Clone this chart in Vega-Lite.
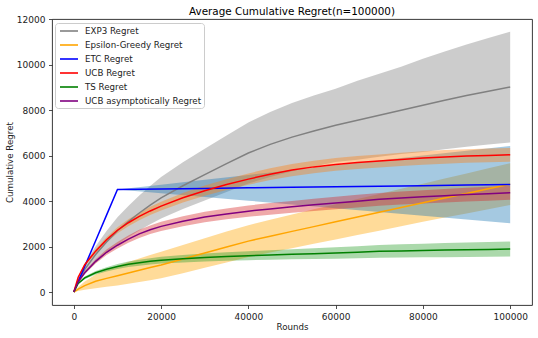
{
  "$schema": "https://vega.github.io/schema/vega-lite/v6.json",
  "width": 480,
  "height": 286,
  "autosize": {"type": "none"},
  "padding": {"left": 52, "top": 19, "right": 6, "bottom": 33},
  "background": "white",
  "title": {"text": "Average Cumulative Regret(n=100000)", "fontSize": 10.4, "font": "DejaVu Sans", "fontWeight": "normal", "color": "#000", "anchor": "middle", "frame": "group", "offset": -2},
  "config": {
    "view": {"stroke": "#222", "strokeWidth": 0.9},
    "axis": {"domain": false, "grid": false, "tickColor": "#222", "tickSize": 3.5, "tickWidth": 0.8, "labelFont": "DejaVu Sans", "labelFontSize": 9, "labelColor": "#222", "labelPadding": 3.5, "titleFont": "DejaVu Sans", "titleFontSize": 8.7, "titleFontWeight": "normal", "titleColor": "#222"}
  },
  "resolve": {"legend": {"fill": "independent", "stroke": "independent"}},
  "data": {"values": [
    {"s":"EXP3 Regret","t":0,"m":0,"lo":0,"hi":0},
    {"s":"EXP3 Regret","t":1000,"m":500,"lo":390,"hi":610},
    {"s":"EXP3 Regret","t":2500,"m":1000,"lo":780,"hi":1220},
    {"s":"EXP3 Regret","t":5000,"m":1650,"lo":1287,"hi":2013},
    {"s":"EXP3 Regret","t":7500,"m":2200,"lo":1716,"hi":2684},
    {"s":"EXP3 Regret","t":10000,"m":2700,"lo":2106,"hi":3294},
    {"s":"EXP3 Regret","t":12500,"m":3100,"lo":2418,"hi":3782},
    {"s":"EXP3 Regret","t":15000,"m":3480,"lo":2714,"hi":4246},
    {"s":"EXP3 Regret","t":17500,"m":3830,"lo":2987,"hi":4673},
    {"s":"EXP3 Regret","t":20000,"m":4150,"lo":3237,"hi":5063},
    {"s":"EXP3 Regret","t":25000,"m":4680,"lo":3650,"hi":5710},
    {"s":"EXP3 Regret","t":30000,"m":5170,"lo":4033,"hi":6307},
    {"s":"EXP3 Regret","t":35000,"m":5650,"lo":4407,"hi":6893},
    {"s":"EXP3 Regret","t":40000,"m":6120,"lo":4774,"hi":7466},
    {"s":"EXP3 Regret","t":45000,"m":6500,"lo":5070,"hi":7930},
    {"s":"EXP3 Regret","t":50000,"m":6820,"lo":5320,"hi":8320},
    {"s":"EXP3 Regret","t":55000,"m":7090,"lo":5530,"hi":8650},
    {"s":"EXP3 Regret","t":60000,"m":7340,"lo":5725,"hi":8955},
    {"s":"EXP3 Regret","t":65000,"m":7560,"lo":5821,"hi":9299},
    {"s":"EXP3 Regret","t":70000,"m":7780,"lo":5952,"hi":9608},
    {"s":"EXP3 Regret","t":75000,"m":8000,"lo":6080,"hi":9920},
    {"s":"EXP3 Regret","t":80000,"m":8220,"lo":6165,"hi":10275},
    {"s":"EXP3 Regret","t":85000,"m":8440,"lo":6288,"hi":10592},
    {"s":"EXP3 Regret","t":90000,"m":8650,"lo":6401,"hi":10899},
    {"s":"EXP3 Regret","t":95000,"m":8840,"lo":6497,"hi":11183},
    {"s":"EXP3 Regret","t":100000,"m":9025,"lo":6588,"hi":11462},

    {"s":"Epsilon-Greedy Regret","t":0,"m":0,"lo":0,"hi":0},
    {"s":"Epsilon-Greedy Regret","t":1000,"m":130,"lo":40,"hi":220},
    {"s":"Epsilon-Greedy Regret","t":2500,"m":280,"lo":100,"hi":460},
    {"s":"Epsilon-Greedy Regret","t":5000,"m":470,"lo":170,"hi":770},
    {"s":"Epsilon-Greedy Regret","t":7500,"m":600,"lo":230,"hi":970},
    {"s":"Epsilon-Greedy Regret","t":10000,"m":720,"lo":290,"hi":1150},
    {"s":"Epsilon-Greedy Regret","t":12500,"m":840,"lo":360,"hi":1320},
    {"s":"Epsilon-Greedy Regret","t":15000,"m":960,"lo":440,"hi":1480},
    {"s":"Epsilon-Greedy Regret","t":17500,"m":1075,"lo":520,"hi":1630},
    {"s":"Epsilon-Greedy Regret","t":20000,"m":1190,"lo":610,"hi":1770},
    {"s":"Epsilon-Greedy Regret","t":25000,"m":1450,"lo":830,"hi":2070},
    {"s":"Epsilon-Greedy Regret","t":30000,"m":1720,"lo":1070,"hi":2370},
    {"s":"Epsilon-Greedy Regret","t":35000,"m":1980,"lo":1300,"hi":2660},
    {"s":"Epsilon-Greedy Regret","t":40000,"m":2240,"lo":1540,"hi":2940},
    {"s":"Epsilon-Greedy Regret","t":45000,"m":2460,"lo":1740,"hi":3180},
    {"s":"Epsilon-Greedy Regret","t":50000,"m":2670,"lo":1930,"hi":3410},
    {"s":"Epsilon-Greedy Regret","t":55000,"m":2880,"lo":2120,"hi":3640},
    {"s":"Epsilon-Greedy Regret","t":60000,"m":3090,"lo":2310,"hi":3870},
    {"s":"Epsilon-Greedy Regret","t":65000,"m":3300,"lo":2505,"hi":4095},
    {"s":"Epsilon-Greedy Regret","t":70000,"m":3510,"lo":2700,"hi":4320},
    {"s":"Epsilon-Greedy Regret","t":75000,"m":3720,"lo":2895,"hi":4545},
    {"s":"Epsilon-Greedy Regret","t":80000,"m":3930,"lo":3090,"hi":4770},
    {"s":"Epsilon-Greedy Regret","t":85000,"m":4140,"lo":3280,"hi":5000},
    {"s":"Epsilon-Greedy Regret","t":90000,"m":4340,"lo":3460,"hi":5220},
    {"s":"Epsilon-Greedy Regret","t":95000,"m":4545,"lo":3645,"hi":5445},
    {"s":"Epsilon-Greedy Regret","t":100000,"m":4750,"lo":3830,"hi":5670},

    {"s":"ETC Regret","t":0,"m":0,"lo":0,"hi":0},
    {"s":"ETC Regret","t":2500,"m":1129,"lo":1129,"hi":1129},
    {"s":"ETC Regret","t":5000,"m":2258,"lo":2258,"hi":2258},
    {"s":"ETC Regret","t":7500,"m":3386,"lo":3386,"hi":3386},
    {"s":"ETC Regret","t":10000,"m":4515,"lo":4515,"hi":4515},
    {"s":"ETC Regret","t":20000,"m":4539,"lo":4350,"hi":4728},
    {"s":"ETC Regret","t":30000,"m":4563,"lo":4185,"hi":4941},
    {"s":"ETC Regret","t":40000,"m":4587,"lo":4020,"hi":5154},
    {"s":"ETC Regret","t":50000,"m":4611,"lo":3855,"hi":5367},
    {"s":"ETC Regret","t":60000,"m":4635,"lo":3690,"hi":5580},
    {"s":"ETC Regret","t":70000,"m":4659,"lo":3525,"hi":5793},
    {"s":"ETC Regret","t":80000,"m":4683,"lo":3360,"hi":6006},
    {"s":"ETC Regret","t":90000,"m":4707,"lo":3195,"hi":6219},
    {"s":"ETC Regret","t":100000,"m":4731,"lo":3030,"hi":6432},

    {"s":"UCB Regret","t":0,"m":0,"lo":0,"hi":0},
    {"s":"UCB Regret","t":1000,"m":650,"lo":620,"hi":680},
    {"s":"UCB Regret","t":2500,"m":1200,"lo":1140,"hi":1260},
    {"s":"UCB Regret","t":5000,"m":1800,"lo":1710,"hi":1890},
    {"s":"UCB Regret","t":7500,"m":2300,"lo":2185,"hi":2415},
    {"s":"UCB Regret","t":10000,"m":2720,"lo":2585,"hi":2855},
    {"s":"UCB Regret","t":12500,"m":3050,"lo":2900,"hi":3200},
    {"s":"UCB Regret","t":15000,"m":3330,"lo":3165,"hi":3495},
    {"s":"UCB Regret","t":17500,"m":3570,"lo":3390,"hi":3750},
    {"s":"UCB Regret","t":20000,"m":3780,"lo":3590,"hi":3970},
    {"s":"UCB Regret","t":25000,"m":4150,"lo":3940,"hi":4360},
    {"s":"UCB Regret","t":30000,"m":4460,"lo":4235,"hi":4685},
    {"s":"UCB Regret","t":35000,"m":4730,"lo":4495,"hi":4965},
    {"s":"UCB Regret","t":40000,"m":4970,"lo":4720,"hi":5220},
    {"s":"UCB Regret","t":45000,"m":5190,"lo":4930,"hi":5450},
    {"s":"UCB Regret","t":50000,"m":5370,"lo":5100,"hi":5640},
    {"s":"UCB Regret","t":55000,"m":5510,"lo":5235,"hi":5785},
    {"s":"UCB Regret","t":60000,"m":5620,"lo":5340,"hi":5900},
    {"s":"UCB Regret","t":65000,"m":5700,"lo":5415,"hi":5985},
    {"s":"UCB Regret","t":70000,"m":5770,"lo":5480,"hi":6060},
    {"s":"UCB Regret","t":75000,"m":5840,"lo":5550,"hi":6130},
    {"s":"UCB Regret","t":80000,"m":5900,"lo":5605,"hi":6195},
    {"s":"UCB Regret","t":85000,"m":5950,"lo":5650,"hi":6250},
    {"s":"UCB Regret","t":90000,"m":5990,"lo":5690,"hi":6290},
    {"s":"UCB Regret","t":95000,"m":6015,"lo":5715,"hi":6315},
    {"s":"UCB Regret","t":100000,"m":6040,"lo":5740,"hi":6340},

    {"s":"TS Regret","t":0,"m":0,"lo":0,"hi":0},
    {"s":"TS Regret","t":1000,"m":380,"lo":340,"hi":420},
    {"s":"TS Regret","t":2500,"m":620,"lo":560,"hi":680},
    {"s":"TS Regret","t":5000,"m":850,"lo":770,"hi":930},
    {"s":"TS Regret","t":7500,"m":1000,"lo":905,"hi":1095},
    {"s":"TS Regret","t":10000,"m":1120,"lo":1010,"hi":1230},
    {"s":"TS Regret","t":12500,"m":1220,"lo":1100,"hi":1340},
    {"s":"TS Regret","t":15000,"m":1290,"lo":1160,"hi":1420},
    {"s":"TS Regret","t":17500,"m":1350,"lo":1210,"hi":1490},
    {"s":"TS Regret","t":20000,"m":1400,"lo":1250,"hi":1550},
    {"s":"TS Regret","t":25000,"m":1470,"lo":1305,"hi":1635},
    {"s":"TS Regret","t":30000,"m":1520,"lo":1345,"hi":1695},
    {"s":"TS Regret","t":35000,"m":1565,"lo":1375,"hi":1755},
    {"s":"TS Regret","t":40000,"m":1600,"lo":1400,"hi":1800},
    {"s":"TS Regret","t":45000,"m":1630,"lo":1420,"hi":1840},
    {"s":"TS Regret","t":50000,"m":1660,"lo":1440,"hi":1880},
    {"s":"TS Regret","t":55000,"m":1690,"lo":1455,"hi":1925},
    {"s":"TS Regret","t":60000,"m":1720,"lo":1470,"hi":1970},
    {"s":"TS Regret","t":65000,"m":1755,"lo":1490,"hi":2020},
    {"s":"TS Regret","t":70000,"m":1790,"lo":1510,"hi":2070},
    {"s":"TS Regret","t":75000,"m":1810,"lo":1520,"hi":2100},
    {"s":"TS Regret","t":80000,"m":1830,"lo":1530,"hi":2130},
    {"s":"TS Regret","t":85000,"m":1845,"lo":1535,"hi":2155},
    {"s":"TS Regret","t":90000,"m":1860,"lo":1540,"hi":2180},
    {"s":"TS Regret","t":95000,"m":1875,"lo":1550,"hi":2200},
    {"s":"TS Regret","t":100000,"m":1890,"lo":1560,"hi":2220},

    {"s":"UCB asymptotically Regret","t":0,"m":0,"lo":0,"hi":0},
    {"s":"UCB asymptotically Regret","t":1000,"m":450,"lo":420,"hi":480},
    {"s":"UCB asymptotically Regret","t":2500,"m":850,"lo":790,"hi":910},
    {"s":"UCB asymptotically Regret","t":5000,"m":1350,"lo":1255,"hi":1445},
    {"s":"UCB asymptotically Regret","t":7500,"m":1750,"lo":1630,"hi":1870},
    {"s":"UCB asymptotically Regret","t":10000,"m":2060,"lo":1915,"hi":2205},
    {"s":"UCB asymptotically Regret","t":12500,"m":2330,"lo":2170,"hi":2490},
    {"s":"UCB asymptotically Regret","t":15000,"m":2560,"lo":2380,"hi":2740},
    {"s":"UCB asymptotically Regret","t":17500,"m":2740,"lo":2550,"hi":2930},
    {"s":"UCB asymptotically Regret","t":20000,"m":2890,"lo":2690,"hi":3090},
    {"s":"UCB asymptotically Regret","t":25000,"m":3120,"lo":2900,"hi":3340},
    {"s":"UCB asymptotically Regret","t":30000,"m":3300,"lo":3070,"hi":3530},
    {"s":"UCB asymptotically Regret","t":35000,"m":3440,"lo":3200,"hi":3680},
    {"s":"UCB asymptotically Regret","t":40000,"m":3560,"lo":3310,"hi":3810},
    {"s":"UCB asymptotically Regret","t":45000,"m":3660,"lo":3405,"hi":3915},
    {"s":"UCB asymptotically Regret","t":50000,"m":3750,"lo":3490,"hi":4010},
    {"s":"UCB asymptotically Regret","t":55000,"m":3840,"lo":3570,"hi":4110},
    {"s":"UCB asymptotically Regret","t":60000,"m":3920,"lo":3645,"hi":4195},
    {"s":"UCB asymptotically Regret","t":65000,"m":4000,"lo":3720,"hi":4280},
    {"s":"UCB asymptotically Regret","t":70000,"m":4080,"lo":3795,"hi":4365},
    {"s":"UCB asymptotically Regret","t":75000,"m":4140,"lo":3850,"hi":4430},
    {"s":"UCB asymptotically Regret","t":80000,"m":4190,"lo":3895,"hi":4485},
    {"s":"UCB asymptotically Regret","t":85000,"m":4240,"lo":3940,"hi":4540},
    {"s":"UCB asymptotically Regret","t":90000,"m":4290,"lo":3985,"hi":4595},
    {"s":"UCB asymptotically Regret","t":95000,"m":4330,"lo":4020,"hi":4640},
    {"s":"UCB asymptotically Regret","t":100000,"m":4370,"lo":4060,"hi":4680}
  ]},
  "encoding": {
    "x": {"field": "t", "type": "quantitative", "title": "Rounds",
          "scale": {"domain": [-5000, 105000], "nice": false, "zero": false},
          "axis": {"values": [0, 20000, 40000, 60000, 80000, 100000], "format": "d", "titlePadding": 1.5}}
  },
  "layer": [
    {
      "mark": {"type": "area", "opacity": 0.4},
      "encoding": {
        "y": {"field": "lo", "type": "quantitative", "title": "Cumulative Regret",
              "scale": {"domain": [-572, 12022], "nice": false, "zero": false},
              "axis": {"values": [0, 2000, 4000, 6000, 8000, 10000, 12000], "format": "d", "titlePadding": 2}},
        "y2": {"field": "hi"},
        "fill": {"field": "s", "type": "nominal", "legend": null,
                 "scale": {"domain": ["EXP3 Regret", "Epsilon-Greedy Regret", "ETC Regret", "UCB Regret", "TS Regret", "UCB asymptotically Regret"],
                           "range": ["#7f7f7f", "#ffa500", "#1f77b4", "#ff7f0e", "#2ca02c", "#d62728"]}}
      }
    },
    {
      "mark": {"type": "line", "strokeWidth": 1.5},
      "encoding": {
        "y": {"field": "m", "type": "quantitative"},
        "stroke": {"field": "s", "type": "nominal",
                   "scale": {"domain": ["EXP3 Regret", "Epsilon-Greedy Regret", "ETC Regret", "UCB Regret", "TS Regret", "UCB asymptotically Regret"],
                             "range": ["#808080", "#ffa500", "#0000ff", "#ff0000", "#008000", "#800080"]},
                   "legend": {"title": null, "orient": "none", "legendX": 3, "legendY": 4, "fillColor": "white", "strokeColor": "#cccccc", "cornerRadius": 3, "padding": 2, "symbolOffset": 6, "symbolType": "M-1.8,0H1.8", "symbolSize": 100, "symbolStrokeWidth": 1.6, "labelFont": "DejaVu Sans", "labelFontSize": 8.7, "labelColor": "#222", "rowPadding": 3, "labelOffset": 10}}
      }
    }
  ]
}
